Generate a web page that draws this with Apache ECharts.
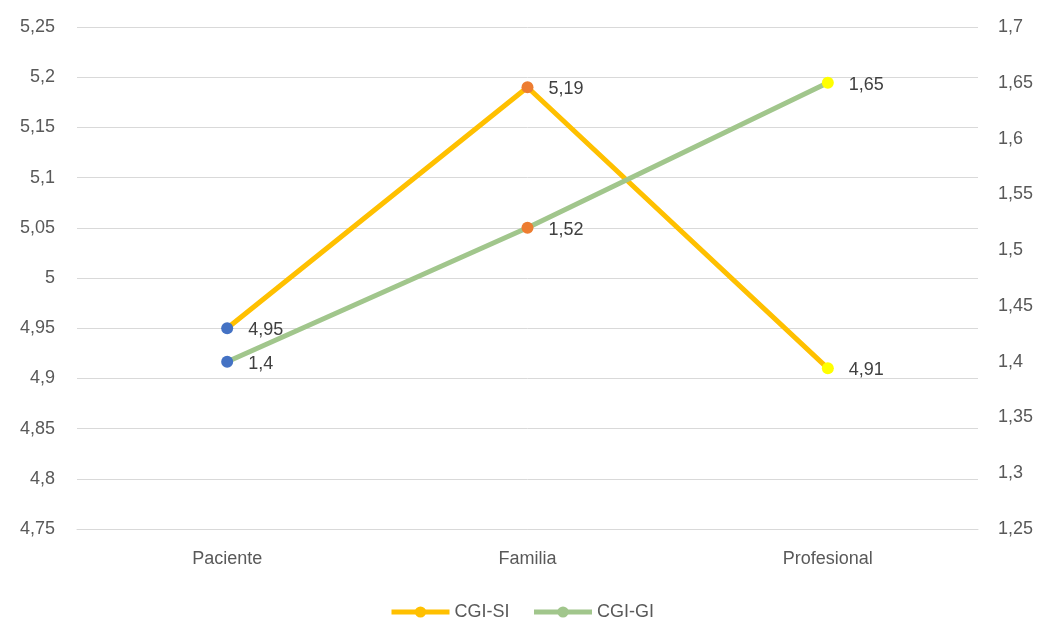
<!DOCTYPE html>
<html><head><meta charset="utf-8">
<script src="https://cdn.jsdelivr.net/npm/echarts@6/dist/echarts.min.js"></script>
<style>html,body{margin:0;padding:0;background:#fff}#c{width:1043px;height:623px}</style>
</head><body><div id="c"></div>
<script>
const categories = ['Paciente', 'Familia', 'Profesional'];
const cgiSI = [4.95, 5.19, 4.91];
const cgiGI = [1.4, 1.52, 1.65];
const pointColors = ['#4472C4', '#ED7D31', '#FFFF00'];
const leftTicks = [4.75, 5.25, 0.05];
const rightTicks = [1.25, 1.7, 0.05];

const fmt = v => String(+v.toFixed(2)).replace('.', ',');
const font = 'Liberation Sans, Arial, sans-serif';

function pts(vals) {
  return vals.map((v, i) => ({ value: v, itemStyle: { color: pointColors[i] } }));
}

const chart = echarts.init(document.getElementById('c'));
chart.setOption({
  animation: false,
  textStyle: { fontFamily: font },
  grid: { left: 77, right: 65, top: 27, bottom: 94 },
  legend: {
    bottom: -3, left: 'center', itemWidth: 58, itemHeight: 14, itemGap: 22,
    textStyle: { fontSize: 18, color: '#595959', fontFamily: font },
    data: [
      { name: 'CGI-SI', itemStyle: { color: '#FFC000' }, lineStyle: { color: '#FFC000', width: 5 } },
      { name: 'CGI-GI', itemStyle: { color: '#A1C68C' }, lineStyle: { color: '#A1C68C', width: 5 } }
    ]
  },
  xAxis: {
    type: 'category', data: categories, boundaryGap: true,
    axisLine: { lineStyle: { color: '#D9D9D9', width: 1 } },
    axisTick: { show: false },
    axisLabel: { fontSize: 18, color: '#595959', margin: 21 }
  },
  yAxis: [
    {
      type: 'value', min: leftTicks[0], max: leftTicks[1], interval: leftTicks[2],
      axisLine: { show: false }, axisTick: { show: false },
      splitLine: { lineStyle: { color: '#D9D9D9', width: 1 } },
      axisLabel: { fontSize: 18, color: '#595959', margin: 22, formatter: fmt }
    },
    {
      type: 'value', min: rightTicks[0], max: rightTicks[1], interval: rightTicks[2],
      axisLine: { show: false }, axisTick: { show: false },
      splitLine: { show: false },
      axisLabel: { fontSize: 18, color: '#595959', margin: 20, formatter: fmt }
    }
  ],
  series: [
    {
      name: 'CGI-SI', type: 'line', yAxisIndex: 0, data: pts(cgiSI),
      lineStyle: { color: '#FFC000', width: 5 },
      itemStyle: { color: '#FFC000' },
      symbol: 'circle', symbolSize: 12,
      label: { show: true, position: 'right', distance: 15, offset: [0, 2], fontSize: 18, color: '#404040', formatter: p => fmt(p.value) }
    },
    {
      name: 'CGI-GI', type: 'line', yAxisIndex: 1, data: pts(cgiGI),
      lineStyle: { color: '#A1C68C', width: 5 },
      itemStyle: { color: '#A1C68C' },
      symbol: 'circle', symbolSize: 12,
      label: { show: true, position: 'right', distance: 15, offset: [0, 2], fontSize: 18, color: '#404040', formatter: p => fmt(p.value) }
    }
  ]
});
</script></body></html>
